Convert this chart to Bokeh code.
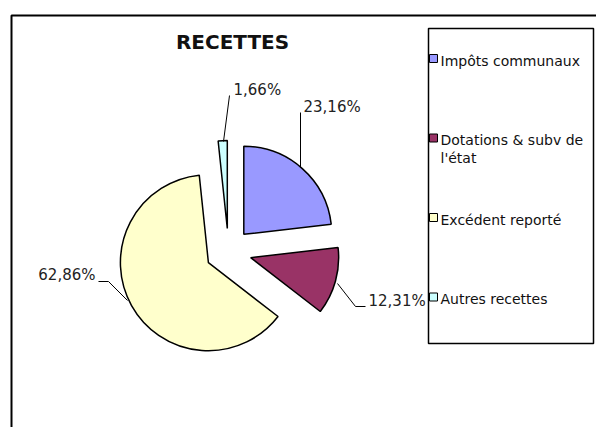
import numpy as np
from bokeh.plotting import figure
from bokeh.models import Range1d, Label, ColumnDataSource
from bokeh.embed import file_html
from bokeh.resources import INLINE
from bokeh.core.properties import value

# ---------------- data ----------------
categories = ["Impôts communaux", "Dotations & subv de l'état", "Excédent reporté", "Autres recettes"]
legend_labels = ["Impôts communaux", "Dotations & subv de\nl'état", "Excédent reporté", "Autres recettes"]
shares = [23.16, 12.31, 62.86, 1.66]
colors = ["#9999FF", "#993366", "#FFFFCC", "#CCFFFF"]
title_text = "RECETTES"

# ---------------- layout helpers ----------------
W, H = 596, 427


def Y(sy):
    # screen y (from top of window) -> data y
    return H - sy


p = figure(width=W, height=H, x_range=Range1d(0, W), y_range=Range1d(0, H),
           output_backend="svg", toolbar_location=None, min_border=0,
           x_axis_location=None, y_axis_location=None)
p.grid.visible = False
p.outline_line_color = None
p.background_fill_color = "white"
p.border_fill_color = "white"

# chart area border (top and left)
p.line(x=[11, 11, 596], y=[0, Y(15), Y(15)], line_color="black", line_width=2)

# ---------------- pie ----------------
frac = np.array(shares) / sum(shares)
cum = np.concatenate([[0.0], np.cumsum(frac)])
start = np.pi / 2 - 2 * np.pi * cum[:-1]
end = np.pi / 2 - 2 * np.pi * cum[1:]
mid = (start + end) / 2
CX, CY, R, EXPL = 228, Y(251), 88, 23
src = ColumnDataSource(dict(
    x=CX + EXPL * np.cos(mid), y=CY + EXPL * np.sin(mid),
    start=start, end=end, color=colors, cat=categories))
p.wedge(x="x", y="y", radius=R, start_angle="start", end_angle="end",
        direction="clock", fill_color="color", line_color="black",
        line_width=1.5, source=src)

# ---------------- data labels ----------------
pct = [f"{v:.2f}".replace(".", ",") + "%" for v in shares]
# label anchors (layout)
lab_x = [303, 368, 95, 233]
lab_y = [106, 300, 274, 89]
lab_align = ["left", "left", "right", "left"]
p.text(x=lab_x, y=[Y(v) for v in lab_y], text=pct, text_align=lab_align,
       text_baseline="middle", text_font=value("DejaVu Sans"),
       text_font_size="15px", text_color="#222222")

leader_xs = [[300, 300], [337, 355, 365], [98, 108, 127], [229, 223]]
leader_ys = [[112, 167], [283, 306, 306], [281, 281, 300], [95, 141]]
p.multi_line(xs=leader_xs, ys=[[Y(v) for v in l] for l in leader_ys],
             line_color="black", line_width=1)

# ---------------- legend ----------------
p.quad(left=428, right=593, top=Y(28), bottom=Y(343), fill_color="white",
       line_color="black", line_width=1.5)
leg_y = [58 + i * 79.5 for i in range(len(categories))]
p.rect(x=[433] * len(categories), y=[Y(v) for v in leg_y], width=8, height=8,
       fill_color=colors, line_color="black", line_width=1)
p.text(x=[440] * len(categories), y=[Y(v - 6) for v in leg_y], text=legend_labels,
       text_align="left", text_baseline="top", text_font=value("DejaVu Sans"),
       text_font_size="14px", text_color="#111111", text_line_height=1.15)

# ---------------- title ----------------
p.add_layout(Label(x=232, y=Y(41), text=title_text, text_align="center",
                   text_baseline="middle", text_font="DejaVu Sans",
                   text_font_style="bold", text_font_size="20px",
                   text_color="#111111"))

open("out.html", "w").write(file_html(p, INLINE, title="Recettes"))
